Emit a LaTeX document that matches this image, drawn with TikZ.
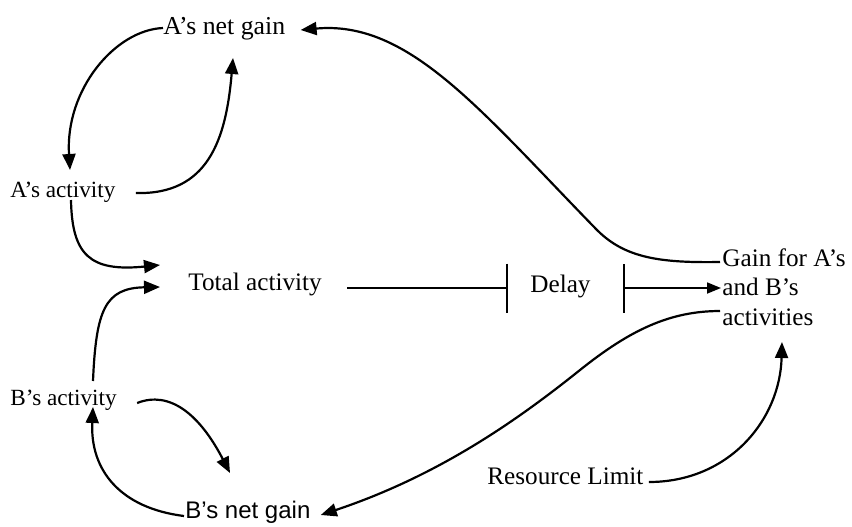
\documentclass[tikz,border=0pt]{standalone}
\usepackage{fontspec}
\setmainfont{Liberation Serif}
\newfontfamily\arialfont{Liberation Sans}
\usetikzlibrary{arrows.meta}
\begin{document}
\begin{tikzpicture}[x=0.5pt,y=-0.5pt,
  lbl/.style={inner sep=0pt, anchor=base west, font=\fontsize{12.6}{14.75}\selectfont},
  small/.style={font=\fontsize{11.6}{14}\selectfont},
  link/.style={line width=1.1pt, -{Triangle[length=8pt,width=6.5pt]}},
  gate/.style={line width=1.1pt}]
\useasboundingbox (0,0) rectangle (852,526);

% variables
\node[lbl, font=\fontsize{12.9}{15}\selectfont] (anet) at (163,34) {A’s net gain};
\node[lbl, small] (aact) at (10,197) {A’s activity};
\node[lbl] (tot) at (188,290) {Total activity};
\node[lbl] (delay) at (530,292) {Delay};
\node[lbl, anchor=north west, align=left] (gain) at (722,248) {Gain for A’s\\and B’s\\activities};
\node[lbl, small] (bact) at (10,405) {B’s activity};
\node[lbl, font=\arialfont\fontsize{12}{14}\selectfont] (bnet) at (185,518) {B’s net gain};
\node[lbl] (res) at (487,484) {Resource Limit};

% A's loop
\draw[link] ([shift={(0,-6)}]anet.base west)
  .. controls +(-48,2) and +(-5,-80) .. ([shift={(60,-27)}]aact.base west);
\draw[link] ([shift={(20,-4)}]aact.base east)
  .. controls +(72,2) and +(-7,82) .. ([shift={(70,24)}]anet.base west);

% B's loop
\draw[link] ([shift={(20,-2)}]bact.base east)
  .. controls +(33,-13) and +(-30,-58) .. ([shift={(45,-45)}]bnet.base west);
\draw[link] ([shift={(-1,-2)}]bnet.base west)
  .. controls +(-64,-8) and +(-3,63) .. ([shift={(83,2)}]bact.base west);

% activities into the total
\draw[link] ([shift={(61,3)}]aact.base west)
  .. controls +(1,55) and +(-70,7) .. ([shift={(-28,-25)}]tot.base west);
\draw[link] ([shift={(83,-24)}]bact.base west)
  .. controls +(3,-71) and +(-55,1) .. ([shift={(-28,-3)}]tot.base west);

% delay line
\draw[gate, -{Bar[width=24.5pt]}] ([shift={(25,-2)}]tot.base east)
  -- ([shift={(-22,-4)}]delay.base west);
\draw[gate, line width=0.9pt, {Bar[width=24.5pt,line width=1.1pt]}-{Triangle[length=7pt,width=5.5pt]}]
  ([shift={(32,-4)}]delay.base east) -- ([shift={(-1,40)}]gain.north west);

% gain shared out to A and B
\draw[link] ([shift={(-2,14)}]gain.north west)
  .. controls +(-60,1) and +(28,28) .. (597,230)
  .. controls +(-117,-120) and +(108,-10) .. ([shift={(15,-4)}]anet.base east);
\draw[link] ([shift={(-2,63)}]gain.north west)
  .. controls +(-50,0) and +(50,-40) .. (580,370)
  .. controls +(-60,48) and +(120,-40) .. ([shift={(10,-3)}]bnet.base east);

% resource limit
\draw[link] ([shift={(5,-2)}]res.base east)
  .. controls +(80,0) and +(-2,78) .. ([shift={(60,94)}]gain.north west);
\end{tikzpicture}
\end{document}
